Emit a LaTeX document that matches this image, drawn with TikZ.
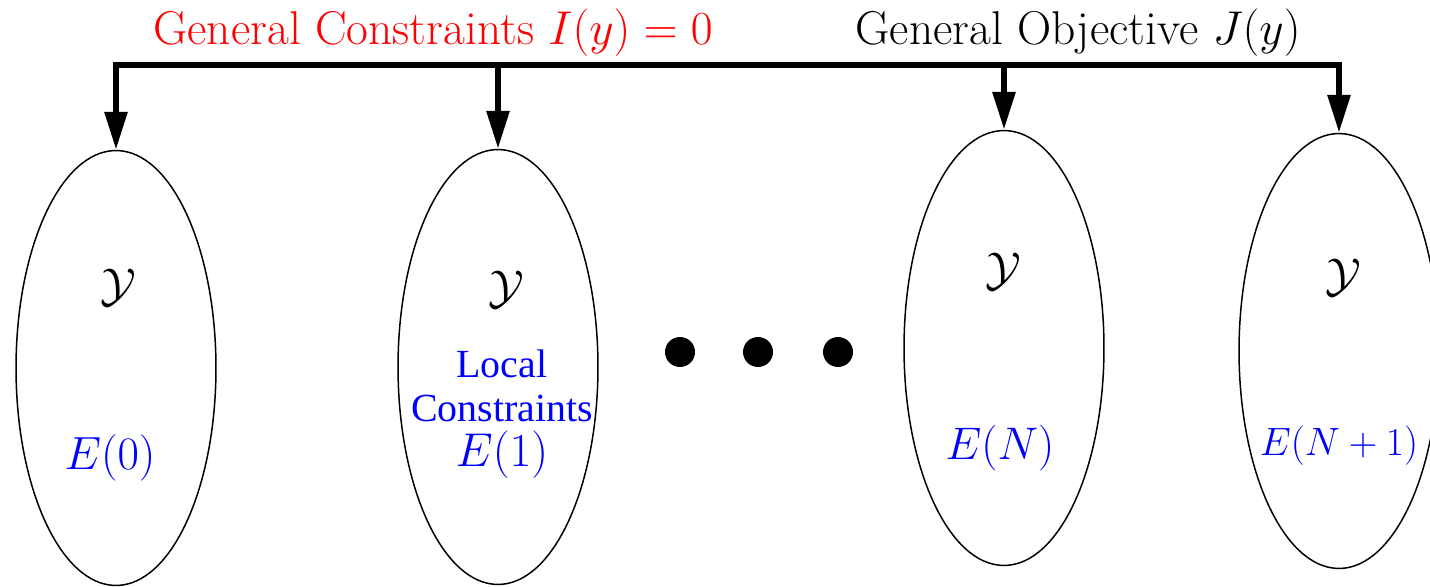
\documentclass[tikz,border=0pt]{standalone}
\usepackage{fix-cm}
\usepackage{fontspec}
\newfontfamily\timesfont{Liberation Serif}
\usetikzlibrary{arrows.meta,shapes.geometric}
\tikzset{
    ensemble/.style={draw, ellipse, line width=0.85pt, minimum width=4cm, minimum height=8.7cm, inner sep=0pt},
    fleche/.style={line width=3.4pt, -{Triangle[length=0.76cm,width=0.44cm]}},
    espace/.style={font=\fontsize{27}{30}\selectfont},
    etiquette/.style={blue, font=\fontsize{26.5}{29}\selectfont},
    titre/.style={anchor=base, font=\fontsize{27}{31}\selectfont},
    point/.style={circle, fill, inner sep=0pt, minimum size=0.6cm},
}
\begin{document}
\begin{tikzpicture}[x=0.02cm, y=-0.02cm]
    \useasboundingbox (0,0) rectangle (1430,587);

    % Ensembles
    \node[ensemble] (e0) at (116,368) {};
    \node[ensemble] (e1) at (498,367) {};
    \node[ensemble] (eN) at (1004,348) {};
    \node[ensemble] (eN1) at (1339,351) {};

    % Titres
    \node[titre, red] (contr) at (433,45) {General Constraints $I(y) = 0$};
    \node[titre] (obj) at (1078,45) {General Objective $J(y)$};

    % Barre et fleches
    \coordinate (b0) at (116,65);
    \coordinate (b1) at (498,65);
    \coordinate (bN) at (1004,65);
    \coordinate (bN1) at (1339,65);
    \draw[fleche, {Triangle[length=0.76cm,width=0.44cm]}-{Triangle[length=0.76cm,width=0.44cm]}, line join=miter]
        (e0.north) -- (b0) -- (bN1) -- (eN1.north);
    \draw[fleche] (b1) -- (e1.north);
    \draw[fleche] (bN) -- (eN.north);

    % Contenu des ensembles
    \node[espace] (y0) at (118,288) {$\mathcal{Y}$};
    \node[espace] (y1) at (506,290) {$\mathcal{Y}$};
    \node[espace] (yN) at (1003,272) {$\mathcal{Y}$};
    \node[espace] (yN1) at (1343,278) {$\mathcal{Y}$};

    \node[etiquette] (l0) at (110,458) {$E(0)$};
    \node[blue, align=center, font=\timesfont\fontsize{22.7}{25.5}\selectfont] (l1) at (502,414)
        {Local\\Constraints\\\fontsize{27}{25.5}\selectfont$E(1)$};
    \node[etiquette, font=\fontsize{26}{29}\selectfont] (lN) at (1000,448) {$E(N)$};
    \node[etiquette, font=\fontsize{22.5}{25}\selectfont] (lN1) at (1339,446) {$E(N+1)$};

    % Points de suspension
    \foreach \x [count=\i] in {680, 758, 838} {
        \node[point] (p\i) at (\x,352) {};
    }
\end{tikzpicture}
\end{document}
